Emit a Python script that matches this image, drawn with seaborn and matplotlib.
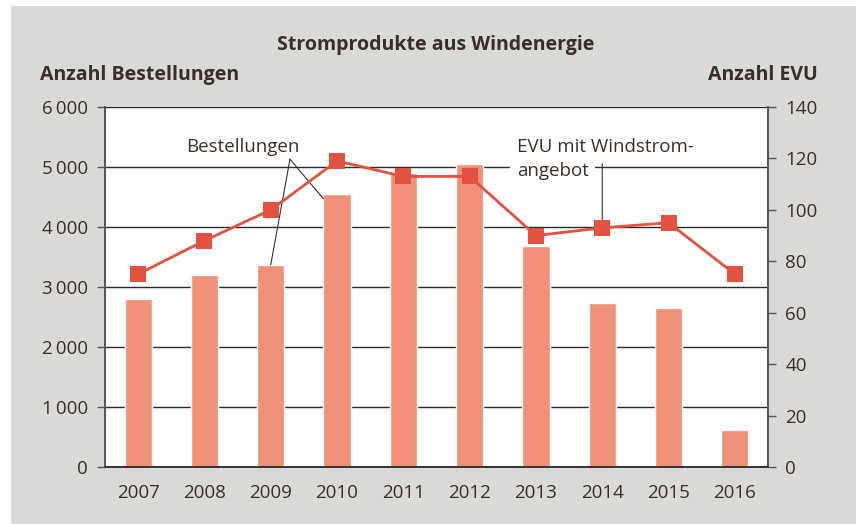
import matplotlib.pyplot as plt
import matplotlib.patches as mpatches
import seaborn as sns
import numpy as np

# Data
years = ['2007', '2008', '2009', '2010', '2011', '2012', '2013', '2014', '2015', '2016']
bestellungen = [2800, 3200, 3370, 4550, 4900, 5050, 3680, 2740, 2650, 620]
evu = [75, 88, 100, 119, 113, 113, 90, 93, 95, 75]

left_ticks = [0, 1000, 2000, 3000, 4000, 5000, 6000]
right_ticks = [0, 20, 40, 60, 80, 100, 120, 140]

bar_color = '#f09078'
line_color = '#e35241'
text_color = '#3a2e2a'
panel_color = '#d9d9d7'

sns.set_theme(style='white')
plt.rcParams['font.family'] = ['Open Sans', 'DejaVu Sans']

fig = plt.figure(figsize=(8.56, 5.24), dpi=100)
fig.patch.set_facecolor('white')
# grey panel with a thin white margin on top and left
fig.patches.append(mpatches.Rectangle((11 / 856, 0), 1, 1 - 6 / 524, transform=fig.transFigure,
                                      facecolor=panel_color, edgecolor='none', zorder=-10))

ax = fig.add_axes([105 / 856, 57 / 524, 663 / 856, 360 / 524])
ax.set_facecolor('white')

sns.barplot(x=years, y=bestellungen, ax=ax, color=bar_color, width=0.41, saturation=1)
ax.set_ylim(0, 6000)
ax.set_xlim(-0.5, len(years) - 0.5)
ax.set_yticks(left_ticks)
ax.set_yticklabels([f'{t:,}'.replace(',', '\u2009') for t in left_ticks])
ax.yaxis.grid(True, color='#2a2a2a', linewidth=1.0)
ax.set_axisbelow(True)

# secondary axis: number of utilities
ax2 = ax.twinx()
sns.pointplot(x=years, y=evu, ax=ax2, color=line_color, markers='s',
              markersize=11, linewidth=2, markeredgewidth=0)
ax2.set_ylim(0, 140)
ax2.set_xlim(-0.5, len(years) - 0.5)
ax2.set_yticks(right_ticks)

for a in (ax, ax2):
    a.spines['top'].set_visible(False)
    a.spines['left'].set_color('#555555')
    a.spines['right'].set_color('#555555')
    a.spines['bottom'].set_color('#333333')
    a.spines['left'].set_linewidth(1.2)
    a.spines['right'].set_linewidth(1.2)
    a.spines['bottom'].set_linewidth(1.2)
    a.set_xlabel('')
    a.set_ylabel('')

ax.tick_params(axis='y', which='both', left=True, length=5.5, width=1, color='#555555',
               labelsize=13.5, labelcolor=text_color, pad=7)
ax.tick_params(axis='x', bottom=False, labelsize=13.5, labelcolor=text_color, pad=6)
ax2.tick_params(axis='y', right=True, length=5.5, width=1, color='#555555',
                labelsize=13.5, labelcolor=text_color, pad=7)

# titles
fig.text(436 / 856, 1 - 45 / 524, 'Stromprodukte aus Windenergie', ha='center', va='center',
         fontsize=14, fontweight='bold', color=text_color)
fig.text(40 / 856, 1 - 75 / 524, 'Anzahl Bestellungen', ha='left', va='center',
         fontsize=14, fontweight='bold', color=text_color)
fig.text(818 / 856, 1 - 75 / 524, 'Anzahl EVU', ha='right', va='center',
         fontsize=14, fontweight='bold', color=text_color)

# annotation for the bars
ax2.text(2.44, 121, 'Bestellungen', ha='right', va='bottom', fontsize=13.5, color=text_color)
vertex = (2.29, 5130)
for xy in [(2, bestellungen[2]), (3 - 0.205, bestellungen[3] - 80)]:
    ax.annotate('', xy=xy, xytext=vertex,
                arrowprops=dict(arrowstyle='-', color=text_color, lw=0.8, shrinkA=0, shrinkB=0))

# annotation for the line
ax2.annotate('', xy=(7, evu[7]), xytext=(7, 118),
             arrowprops=dict(arrowstyle='-', color=text_color, lw=0.8, shrinkA=0, shrinkB=6))
ax2.text(5.71, 121, 'EVU mit Windstrom-', ha='left', va='bottom', fontsize=13.5,
         color=text_color, zorder=5)
ax2.text(5.71, 111.5, 'angebot', ha='left', va='bottom', fontsize=13.5,
         color=text_color, zorder=5,
         bbox=dict(facecolor='white', edgecolor='none', boxstyle='square,pad=0.35'))

fig.savefig('out.png', dpi=100, facecolor=fig.get_facecolor())
